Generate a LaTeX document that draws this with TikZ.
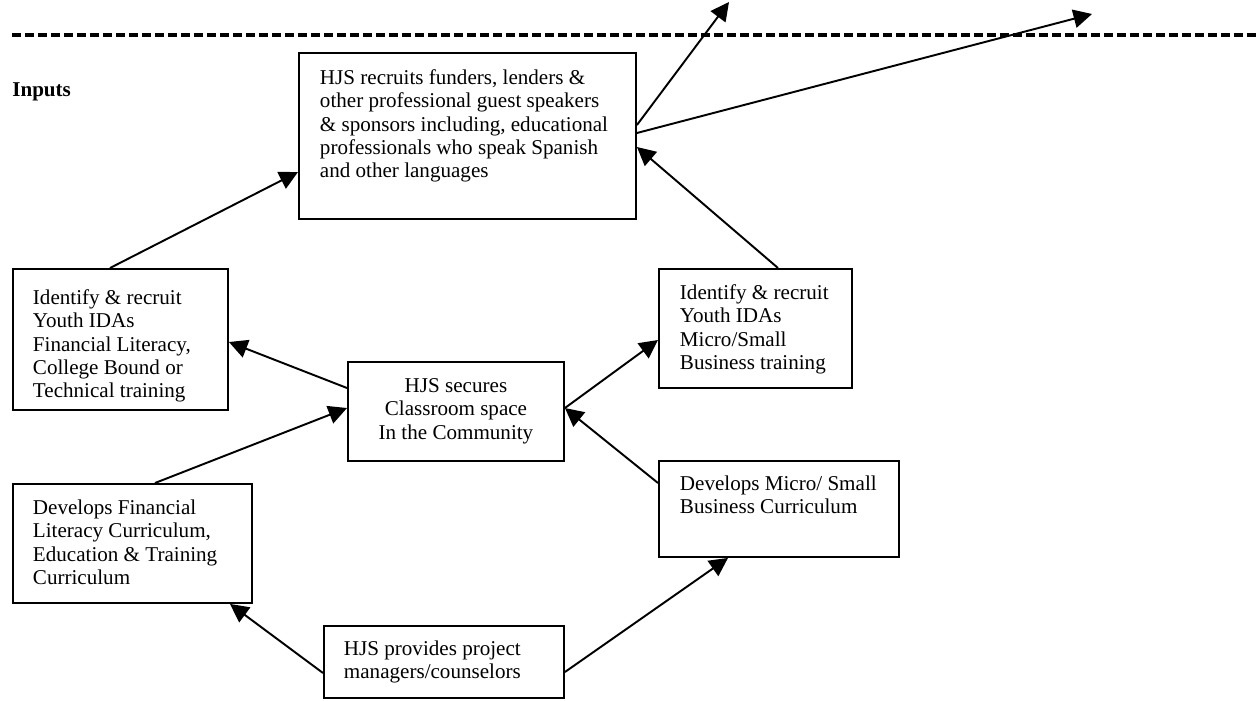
\documentclass[tikz,border=0pt]{standalone}
\usepackage{fontspec}
\setmainfont{Liberation Serif}
\usetikzlibrary{arrows.meta,calc}
\newcommand\pp[1]{\dimexpr0.02cm*#1\relax}
\newcommand\ltxt[5]{\parbox[c][\pp{#2}][t]{\pp{#1}}{\raggedright\leftskip=\pp{#4}\relax\vspace*{\pp{#3}}\strut #5}}
\newcommand\ctxt[4]{\parbox[c][\pp{#2}][t]{\pp{#1}}{\centering\vspace*{\pp{#3}}\strut #4}}
\tikzset{
  box/.style={draw, line width=1.1pt, inner sep=0pt, anchor=north west, rectangle,
    font=\fontsize{12pt}{13.3pt}\selectfont},
  conn/.style={line width=1.1pt, -{Triangle[length=10.5pt,width=10.5pt]}},
}
\begin{document}
\begin{tikzpicture}[x=0.02cm, y=-0.02cm]
\useasboundingbox (0,0) rectangle (1256,700);
\draw[line width=2pt, dash pattern=on 0.18cm off 0.08cm] (12,35) -- (1256,35);
\node[font=\bfseries\fontsize{12pt}{13.3pt}\selectfont, anchor=base west, inner sep=0pt] (inputs) at (12,96) {Inputs};

\node[box] (top) at (298,52) {\ltxt{337}{166}{15}{21}{HJS recruits funders, lenders \&\\other professional guest speakers\\\& sponsors including, educational\\professionals who speak Spanish\\and other languages}};
\node[box] (leftID) at (12,268) {\ltxt{215}{141}{19}{20}{Identify \& recruit\\Youth IDAs\\Financial Literacy,\\College Bound or\\Technical training}};
\node[box] (rightID) at (658,268) {\ltxt{193}{119}{14}{21}{Identify \& recruit\\Youth IDAs\\Micro/Small\\Business training}};
\node[box] (center) at (347,361) {\ctxt{216}{99}{14}{HJS secures\\Classroom space\\In the Community}};
\node[box] (botleft) at (12,483) {\ltxt{239}{119}{14}{20}{Develops Financial\\Literacy Curriculum,\\Education \& Training\\Curriculum}};
\node[box] (botright) at (658,460) {\ltxt{240}{96}{13}{21}{Develops Micro/ Small\\Business Curriculum}};
\node[box] (bottom) at (323,625) {\ltxt{240}{72}{13}{20}{HJS provides project\\managers/counselors}};

\coordinate (out1) at (729,2);
\coordinate (out2) at (1092,14);

\draw[conn] ($(leftID.north west)+(98,0)$) -- ($(top.north west)+(0,120)$);
\draw[conn] ($(rightID.north west)+(120,0)$) -- ($(top.north east)+(0,95)$);
\draw[conn] ($(center.north west)+(0,27)$) -- ($(leftID.north east)+(0,74)$);
\draw[conn] ($(center.north east)+(0,47)$) -- ($(rightID.north west)+(0,72)$);
\draw[conn] ($(botleft.north west)+(143,0)$) -- ($(center.north west)+(0,47)$);
\draw[conn] ($(botright.north west)+(0,23)$) -- ($(center.north east)+(0,47)$);
\draw[conn] ($(bottom.north west)+(0,48)$) -- ($(botleft.south west)+(218,0)$);
\draw[conn] ($(bottom.north east)+(0,47)$) -- ($(botright.south west)+(70,0)$);
\draw[conn] ($(top.north east)+(0,73)$) -- (out1);
\draw[conn] ($(top.north east)+(0,81)$) -- (out2);
\end{tikzpicture}
\end{document}
